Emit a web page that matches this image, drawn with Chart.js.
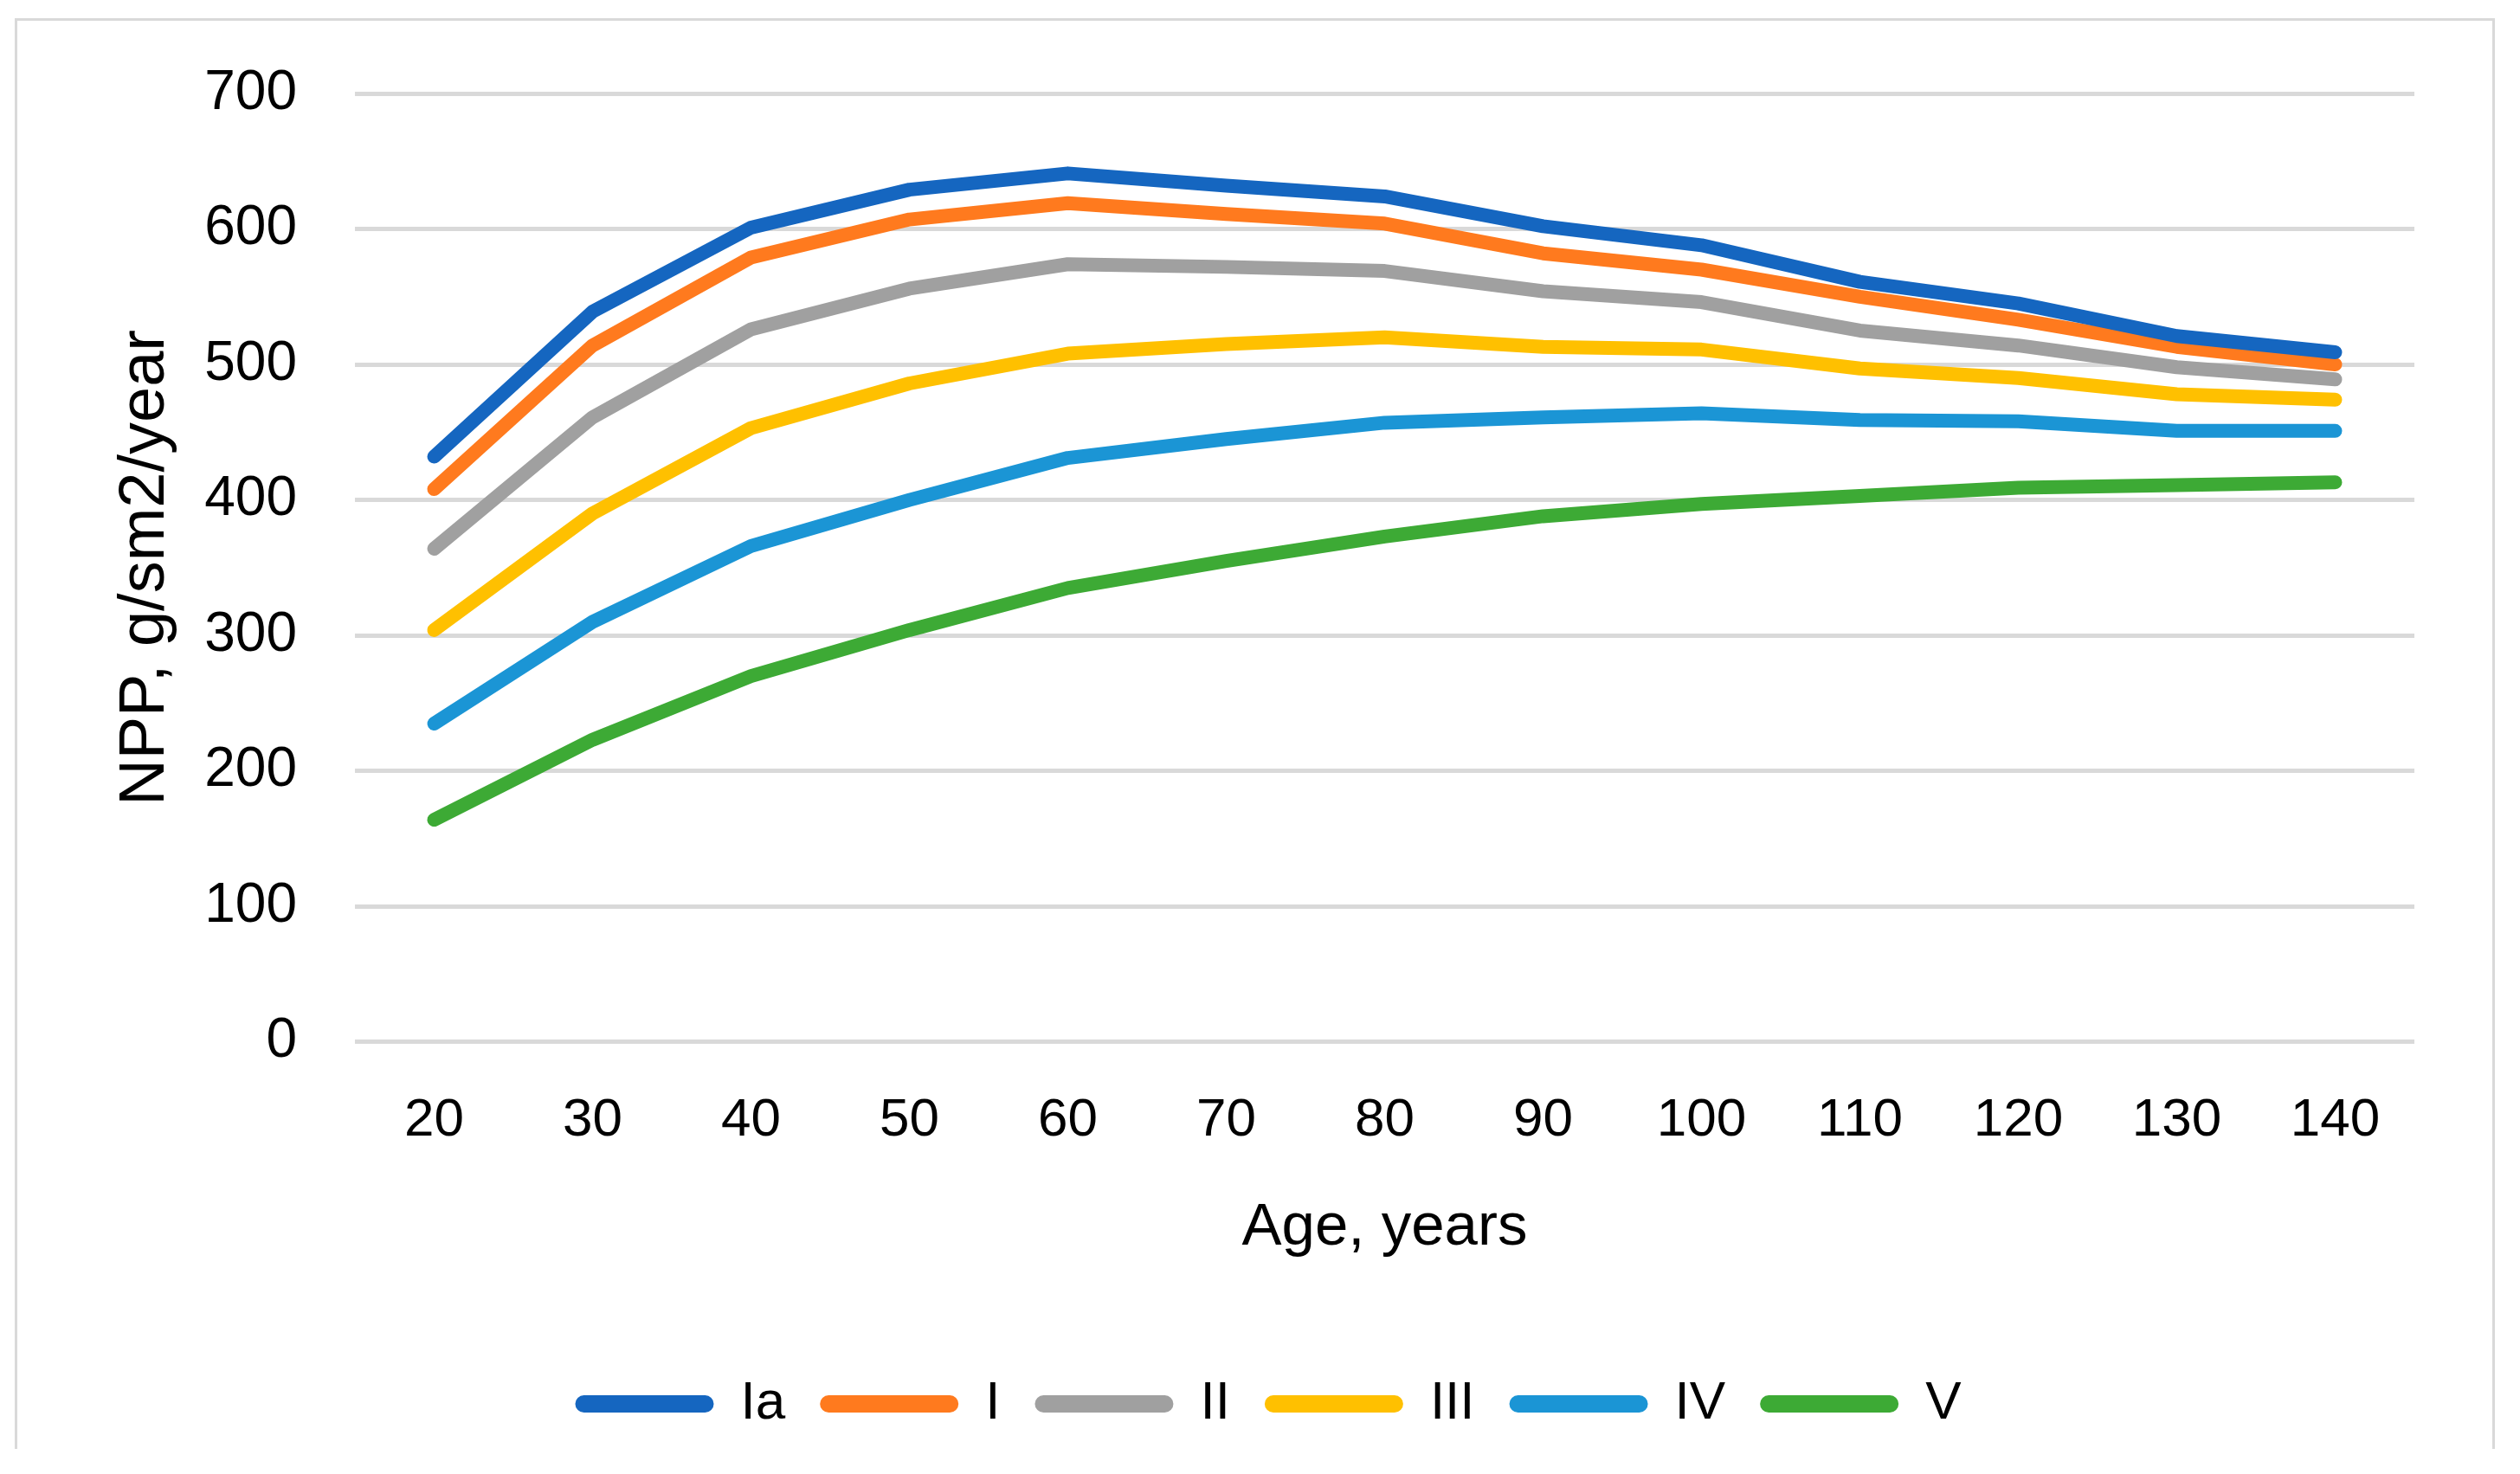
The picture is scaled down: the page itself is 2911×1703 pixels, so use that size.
<!DOCTYPE html>
<html>
<head>
<meta charset="utf-8">
<script src="https://cdn.jsdelivr.net/npm/chart.js@4.4.1/dist/chart.umd.min.js"></script>
<style>
  html, body { margin: 0; padding: 0; background: #fff; overflow: hidden; }
  #frame { position: absolute; left: 17px; top: 21px; width: 2859px; height: 1650px;
           border: 3px solid #d9d9d9; border-bottom: none; }
  #wrap { position: absolute; left: 18px; top: 0; width: 2860px; height: 1703px; }
</style>
</head>
<body>
<div id="frame"></div>
<div id="wrap"><canvas id="npp-chart"></canvas></div>
<script>
// Datos
const ages = ['20', '30', '40', '50', '60', '70', '80', '90', '100', '110', '120', '130', '140'];
const classIa  = [432, 539, 601, 629, 641, 632, 624, 602, 588, 561, 545, 521, 509];
const classI   = [408, 514, 579, 607, 619, 611, 604, 582, 570, 550, 533, 513, 500];
const classII  = [364, 461, 526, 556, 574, 572, 569, 554, 546, 525, 514, 498, 489];
const classIII = [304, 390, 453, 486, 508, 515, 520, 513, 511, 497, 490, 478, 474];
const classIV  = [235, 310, 366, 400, 431, 445, 457, 461, 464, 459, 458, 451, 451];
const classV   = [164, 223, 270, 304, 335, 355, 373, 388, 397, 403, 409, 411, 413];
const yTicks = [0, 100, 200, 300, 400, 500, 600, 700];

const FONT = "'Liberation Sans', 'DejaVu Sans', sans-serif";

function serie(label, data, color) {
  return {
    label: label,
    data: data,
    borderColor: color,
    backgroundColor: color,
    borderWidth: 16,
    pointRadius: 0,
    borderCapStyle: 'round',
    borderJoinStyle: 'round',
    tension: 0
  };
}

const chart = new Chart(document.getElementById('npp-chart'), {
  type: 'line',
  data: {
    labels: ages,
    datasets: [
      serie('Ia', classIa, '#1566c0'),
      serie('I', classI, '#ff7a1e'),
      serie('II', classII, '#a0a0a0'),
      serie('III', classIII, '#ffc000'),
      serie('IV', classIV, '#1b95d5'),
      serie('V', classV, '#3daa35')
    ]
  },
  options: {
    responsive: true,
    maintainAspectRatio: false,
    animation: false,
    devicePixelRatio: 1,
    // left/right desiguales para centrar la leyenda como en el original
    layout: { padding: { top: 108, right: 89, bottom: 40, left: 123 } },
    plugins: {
      tooltip: { enabled: false },
      legend: {
        position: 'bottom',
        labels: {
          color: '#000',
          font: { family: FONT, size: 62 },
          boxWidth: 160,
          boxHeight: 20,
          padding: 40,
          useBorderRadius: true,
          borderRadius: 10,
          // sin borde para que la muestra no engorde
          generateLabels: function(c) {
            return Chart.defaults.plugins.legend.labels.generateLabels(c)
              .map(l => Object.assign(l, { lineWidth: 0 }));
          }
        }
      }
    },
    scales: {
      x: {
        offset: true,
        grid: { display: false, drawTicks: false },
        border: { display: false },
        ticks: { color: '#000', font: { family: FONT, size: 62 }, padding: 54, maxRotation: 0 },
        title: {
          display: true,
          text: 'Age, years',
          color: '#000',
          font: { family: FONT, size: 69 },
          padding: { top: -9, bottom: 91 }
        }
      },
      y: {
        min: 0,
        max: 700,
        afterFit: function(scale) { scale.width = 269; },
        afterBuildTicks: function(scale) { scale.ticks = yTicks.map(v => ({ value: v })); },
        grid: { color: '#d9d9d9', lineWidth: 5, drawTicks: false },
        border: { display: false },
        ticks: { color: '#000', font: { family: FONT, size: 64 }, padding: 67 },
        title: {
          display: true,
          text: 'NPP, g/sm2/year',
          color: '#000',
          font: { family: FONT, size: 74 },
          padding: { top: -17, bottom: 0 }
        }
      }
    }
  }
});
</script>
</body>
</html>
